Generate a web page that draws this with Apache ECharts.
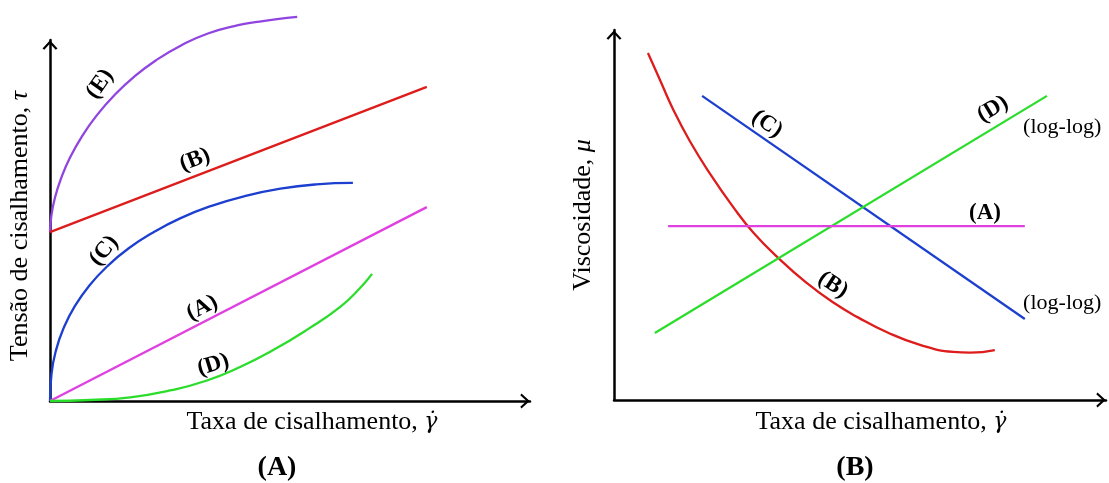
<!DOCTYPE html>
<html>
<head>
<meta charset="utf-8">
<script src="https://cdn.jsdelivr.net/npm/echarts@6/dist/echarts.min.js"></script>
<style>
html, body { margin: 0; padding: 0; background: #fff; }
#chart { width: 1109px; height: 483px; }
</style>
</head>
<body>
<div id="chart"></div>
<script>
// painel (A): tensão de cisalhamento x taxa (unidades arbitrárias 0..100)
const tauE = [[0, 46.8], [0.26, 51.1], [1.03, 56.3], [2.32, 61.7], [4.12, 67.3], [6.69, 73.4], [9.78, 79.2], [13.4, 84.7], [17.5, 89.8], [22.1, 94.4], [27.3, 98.5], [32.9, 101.8], [39.2, 104.1], [43.1, 105.0], [47.3, 105.8], [51.5, 106.4]]
const tauB = [[0, 46.8], [78.5, 87.0]]
const tauC = [[0, 0], [0.32, 7.6], [1.26, 14.1], [2.84, 20.2], [5.05, 26.0], [8.21, 32.0], [12.0, 37.4], [16.4, 42.3], [21.5, 46.7], [27.1, 50.6], [33.5, 54.0], [40.4, 56.7], [48.0, 58.8], [55.5, 60.0], [63.1, 60.4]]
const tauA = [[0, 0], [78.5, 53.7]]
const tauD = [[0, 0], [8.33, 0.28], [16.7, 1.02], [25.0, 2.91], [32.7, 5.68], [39.6, 9.42], [46.5, 14.1], [53.5, 19.7], [60.4, 26.0], [64.6, 31.3], [67.1, 35.2]]

// painel (B): viscosidade x taxa
const muB = [[6.9, 93.8], [9.35, 86.5], [12.0, 78.6], [15.4, 70.0], [19.5, 61.2], [24.2, 52.2], [28.3, 45.3], [33.7, 38.0], [39.2, 31.6], [44.5, 26.4], [49.5, 22.4], [55.5, 18.3], [62.2, 14.9], [68.9, 13.0], [72.4, 12.8], [77.4, 13.5]]
const muC = [[17.9, 82.2], [83.5, 21.9]]
const muD = [[8.3, 18.1], [88.0, 82.2]]
const muA = [[11.0, 47.0], [83.5, 47.0]]

// rótulos das curvas: [grid, texto, x, y, rotação em graus]
const curveLabels = [
  [0, '(E)', 10.4, 87.8, 55],
  [0, '(B)', 30.2, 66.8, 21],
  [0, '(C)', 11.25, 41.6, 50],
  [0, '(A)', 31.7, 25.8, 27],
  [0, '(D)', 34.0, 10.0, 17],
  [1, '(C)', 31.1, 74.6, -35],
  [1, '(B)', 44.5, 31.1, -33],
  [1, '(D)', 77.0, 78.6, 31],
  [1, '(A)', 75.4, 50.5, 0]
]
const logLabels = [[91.1, 73.8], [91.1, 26.2]]

const colors = { A: '#e040e0', B: '#dd1c1c', C: '#1c3fcf', D: '#2bdd2b', E: '#9145e0' }
const serif = '"Liberation Serif", "Times New Roman", serif'

const myChart = echarts.init(document.getElementById('chart'))

const arrow = 'path://M0,11 L10,0 L20,11 L17.6,12.6 L10,4.2 L2.4,12.6 Z'
function axisLine () {
  return {
    show: true,
    onZero: false,
    symbol: ['none', arrow],
    symbolSize: [15, 10],
    symbolOffset: [0, -5],
    lineStyle: { color: '#000', width: 2.5 }
  }
}
function valueAxis (gridIndex) {
  return {
    type: 'value',
    gridIndex: gridIndex,
    min: 0,
    max: 100,
    axisLine: axisLine(),
    axisTick: { show: false },
    axisLabel: { show: false },
    splitLine: { show: false }
  }
}
function curve (gi, data, color, smooth) {
  return {
    type: 'line',
    xAxisIndex: gi,
    yAxisIndex: gi,
    data: data,
    smooth: smooth ? 0.5 : false,
    showSymbol: false,
    clip: false,
    silent: true,
    lineStyle: { color: color, width: 2.3 },
    z: 3
  }
}

const option = {
  animation: false,
  backgroundColor: '#fff',
  grid: [
    { left: 50, top: 40, width: 480, height: 361 },
    { left: 614, top: 30, width: 492, height: 370 }
  ],
  xAxis: [valueAxis(0), valueAxis(1)],
  yAxis: [valueAxis(0), valueAxis(1)],
  series: [
    curve(0, tauE, colors.E, true),
    curve(0, tauB, colors.B, false),
    curve(0, tauC, colors.C, true),
    curve(0, tauA, colors.A, false),
    curve(0, tauD, colors.D, true),
    curve(1, muB, colors.B, true),
    curve(1, muC, colors.C, false),
    curve(1, muD, colors.D, false),
    curve(1, muA, colors.A, false)
  ]
}
myChart.setOption(option)

// textos: títulos dos eixos, rótulos das curvas e dos painéis
function text (x, y, str, size, extra) {
  return Object.assign({
    type: 'text',
    x: x,
    y: y,
    z: 10,
    silent: true,
    style: {
      text: str,
      fontFamily: serif,
      fontSize: size,
      fill: '#000',
      align: 'center',
      verticalAlign: 'middle',
      textAlign: 'center',
      textVerticalAlign: 'middle'
    }
  }, extra || {})
}
const italic = {
  i: { fontStyle: 'italic', fontFamily: serif, fontSize: 26 },
  g: { fontStyle: 'italic', fontFamily: '"DejaVu Serif"', fontSize: 22 }
}
const graphic = []
graphic.push(text(312, 422, 'Taxa de cisalhamento, {g|γ̇}', 26))
graphic.push(text(881, 422, 'Taxa de cisalhamento, {g|γ̇}', 26))
graphic.push(text(20, 226, 'Tensão de cisalhamento, {i|τ}', 26, { rotation: Math.PI / 2 }))
graphic.push(text(583, 215, 'Viscosidade, {i|μ}', 26, { rotation: Math.PI / 2 }))
graphic.forEach(function (g) { g.style.rich = italic })
const panelA = text(277, 468, '(A)', 28)
panelA.style.fontWeight = 'bold'
const panelB = text(855, 468, '(B)', 28)
panelB.style.fontWeight = 'bold'
graphic.push(panelA, panelB)

curveLabels.forEach(function (l) {
  const p = myChart.convertToPixel({ gridIndex: l[0] }, [l[2], l[3]])
  const t = text(p[0], p[1], l[1], 23, { rotation: l[4] * Math.PI / 180 })
  t.style.fontWeight = 'bold'
  graphic.push(t)
})
logLabels.forEach(function (l) {
  const p = myChart.convertToPixel({ gridIndex: 1 }, l)
  graphic.push(text(p[0], p[1], '(log-log)', 22))
})

myChart.setOption({ graphic: graphic })
window.addEventListener('resize', function () {
  myChart.resize()
})
</script>
</body>
</html>
